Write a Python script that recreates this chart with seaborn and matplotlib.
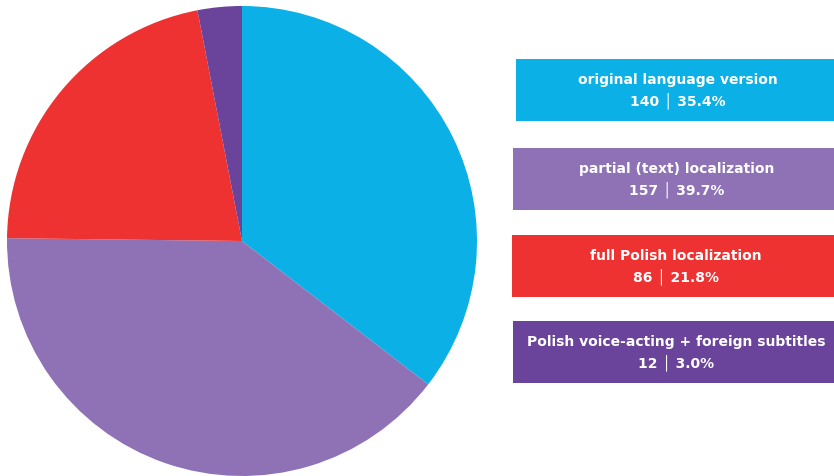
import matplotlib
matplotlib.use("Agg")
import matplotlib.pyplot as plt
import seaborn as sns
from matplotlib.patches import Rectangle

categories = ["original language version", "partial (text) localization",
              "full Polish localization", "Polish voice-acting + foreign subtitles"]
counts = [140, 157, 86, 12]
percents = [35.4, 39.7, 21.8, 3.0]
colors = ["#0AB0E6", "#8E72B5", "#EE3131", "#6A439A"]

sns.set_theme(style="white")
plt.rcParams['font.family'] = ['DejaVu Sans']

W, H = 834, 477
fig = plt.figure(figsize=(W / 100, H / 100), dpi=100)
fig.patch.set_facecolor("white")

ax = fig.add_axes([7 / W, 0 / H, 470 / W, 470 / H])
ax.pie(counts, colors=colors, startangle=90, counterclock=False,
       wedgeprops=dict(linewidth=0), radius=1.0)
ax.set_xlim(-1, 1)
ax.set_ylim(-1, 1)
ax.set_aspect("equal")
ax.axis("off")

lax = fig.add_axes([0, 0, 1, 1])
lax.set_xlim(0, W)
lax.set_ylim(H, 0)
lax.axis("off")
lax.patch.set_alpha(0)

box_tops = [60, 149, 236, 322]
box_lefts = [516, 513, 512, 513]
box_h = 62
for cat, n, p, c, top, left in zip(categories, counts, percents, colors, box_tops, box_lefts):
    lax.add_patch(Rectangle((left, top), W - left, box_h, facecolor=c, edgecolor="none"))
    cx = (left + W) / 2 + 3
    lax.text(cx, top + 20, cat, ha="center", va="center", color="white",
             fontsize=10.0, fontweight="bold")
    lax.text(cx, top + 41, f"{n} \u2502 {p:.1f}%", ha="center", va="center",
             color="white", fontsize=10.0, fontweight="bold")

fig.savefig("out.png", dpi=100, facecolor="white")
